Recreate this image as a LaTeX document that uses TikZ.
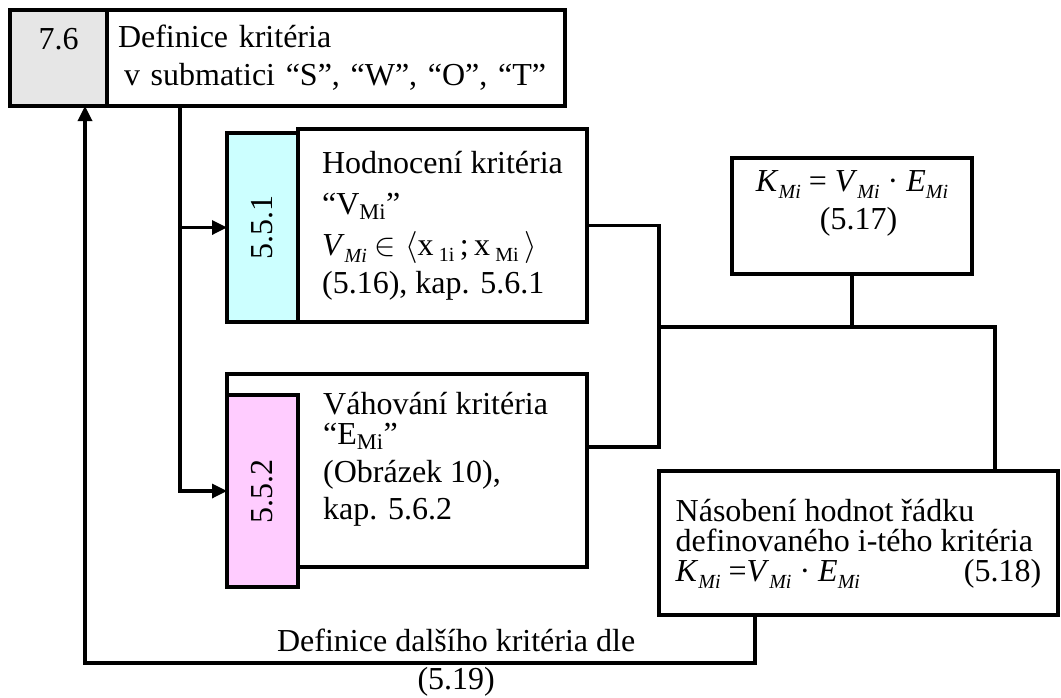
\RequirePackage{fix-cm}
\documentclass[tikz,border=0pt]{standalone}
\usepackage{fontspec}
\setmainfont{Liberation Serif}
\usetikzlibrary{arrows.meta,positioning}

\definecolor{tagcyan}{HTML}{CCFFFF}
\definecolor{tagpink}{HTML}{FFCCFF}
\definecolor{taggray}{HTML}{E6E6E6}

% italic quantity with a lowered italic index, e.g. K_Mi
\newcommand{\quant}[2]{\textit{#1}\raisebox{-7pt}{\fontsize{20}{20}\selectfont\textit{#2}}}
% upright lowered index, e.g. x_1i
\newcommand{\lowsub}[1]{\raisebox{-6pt}{\fontsize{20}{20}\selectfont #1}}

\begin{document}
\begin{tikzpicture}[
        x=1pt, y=-1pt,
        >={Triangle[length=15pt,width=14pt]},
        font=\fontsize{32}{38}\selectfont,
        box/.style={draw, line width=3.3pt, rectangle, outer sep=0pt, inner sep=0pt, align=left},
        tag/.style={draw, line width=4.5pt, rectangle, outer sep=0pt, inner sep=0pt, minimum width=71pt},
        flow/.style={line width=3.3pt}
    ]
        \useasboundingbox (0,0) rectangle (1061,697);

        % Nodes
        \node (num76) [tag, fill=taggray, minimum width=97pt, minimum height=96pt, anchor=north west, align=center] at (10,10) {7.6\\\mbox{}};
        \node (def) [box, right=0pt of num76, text width=436pt, inner xsep=11pt, minimum height=96pt] {Definice kritéria\\\hspace*{6pt}v submatici “S”, “W”, “O”, “T”};

        \node (hod) [box, minimum width=289pt, minimum height=193pt, anchor=north west] at (298,129)
            {Hodnocení kritéria\\[3pt]“V\textsubscript{Mi}”\\[3pt]\quant{V}{Mi} $\in\big\langle$x\,\lowsub{1i}\,;\,x\,\lowsub{Mi}\,$\big\rangle$\\(5.16), kap. 5.6.1};
        \node (num551) [tag, fill=tagcyan, minimum height=189pt, anchor=south east, label={[rotate=90]center:5.5.1}] at (hod.south west) {};

        \node (vah) [box, minimum width=360pt, minimum height=193pt, anchor=north west] at (227,374) {};
        \node (num552) [tag, fill=tagpink, minimum height=192pt, anchor=north west, label={[rotate=90]center:5.5.2}] at ([yshift=-21pt]vah.north west) {};
        \node (vahtxt) [align=left, anchor=north west, inner sep=0pt] at (323,392)
            {Váhování kritéria\\[-8pt]“E\textsubscript{Mi}”\\(Obrázek 10),\\[-1pt]kap. 5.6.2};

        \node (kbox) [box, minimum width=240pt, minimum height=116pt, anchor=north west] at (732,158)
            {\quant{K}{Mi} = \quant{V}{Mi} · \quant{E}{Mi}\\[0pt]\hspace*{64pt}(5.17)\\[-6pt]\mbox{}};

        \node (mult) [box, minimum width=399pt, minimum height=144pt, anchor=north west, font=\fontsize{32}{30}\selectfont] at (659,471)
            {Násobení hodnot řádku\\definovaného i-tého kritéria\\\quant{K}{Mi} =\quant{V}{Mi} · \quant{E}{Mi}\hspace*{104pt}(5.18)\\[-24pt]\mbox{}};

        % Connections
        \coordinate (dn) at ([xshift=73pt]def.south west);
        \draw[flow, ->] (dn) |- (num552.west);
        \draw[flow, ->] (dn |- num551.west) -- (num551.west);

        \coordinate (vahout) at ([yshift=23.5pt]vah.east);
        \coordinate (jn) at (659,327);
        \coordinate (mtop) at ([xshift=-63pt]mult.north east);
        \draw[flow] (hod.east) -| (jn) |- (vahout);
        \draw[flow] (kbox.south) -- (kbox.south |- jn);
        \draw[flow] (jn) -| (mtop);

        % Next criterion
        \coordinate (fbout) at ([xshift=96pt]mult.south west);
        \coordinate (fbin) at ([xshift=-22pt]num76.south east);
        \draw[flow, ->] (fbout) -- ++(0,48) -| node[pos=0.223, align=center] (fbtxt) {Definice dalšího kritéria dle\\(5.19)} (fbin);

    \end{tikzpicture}
\end{document}
